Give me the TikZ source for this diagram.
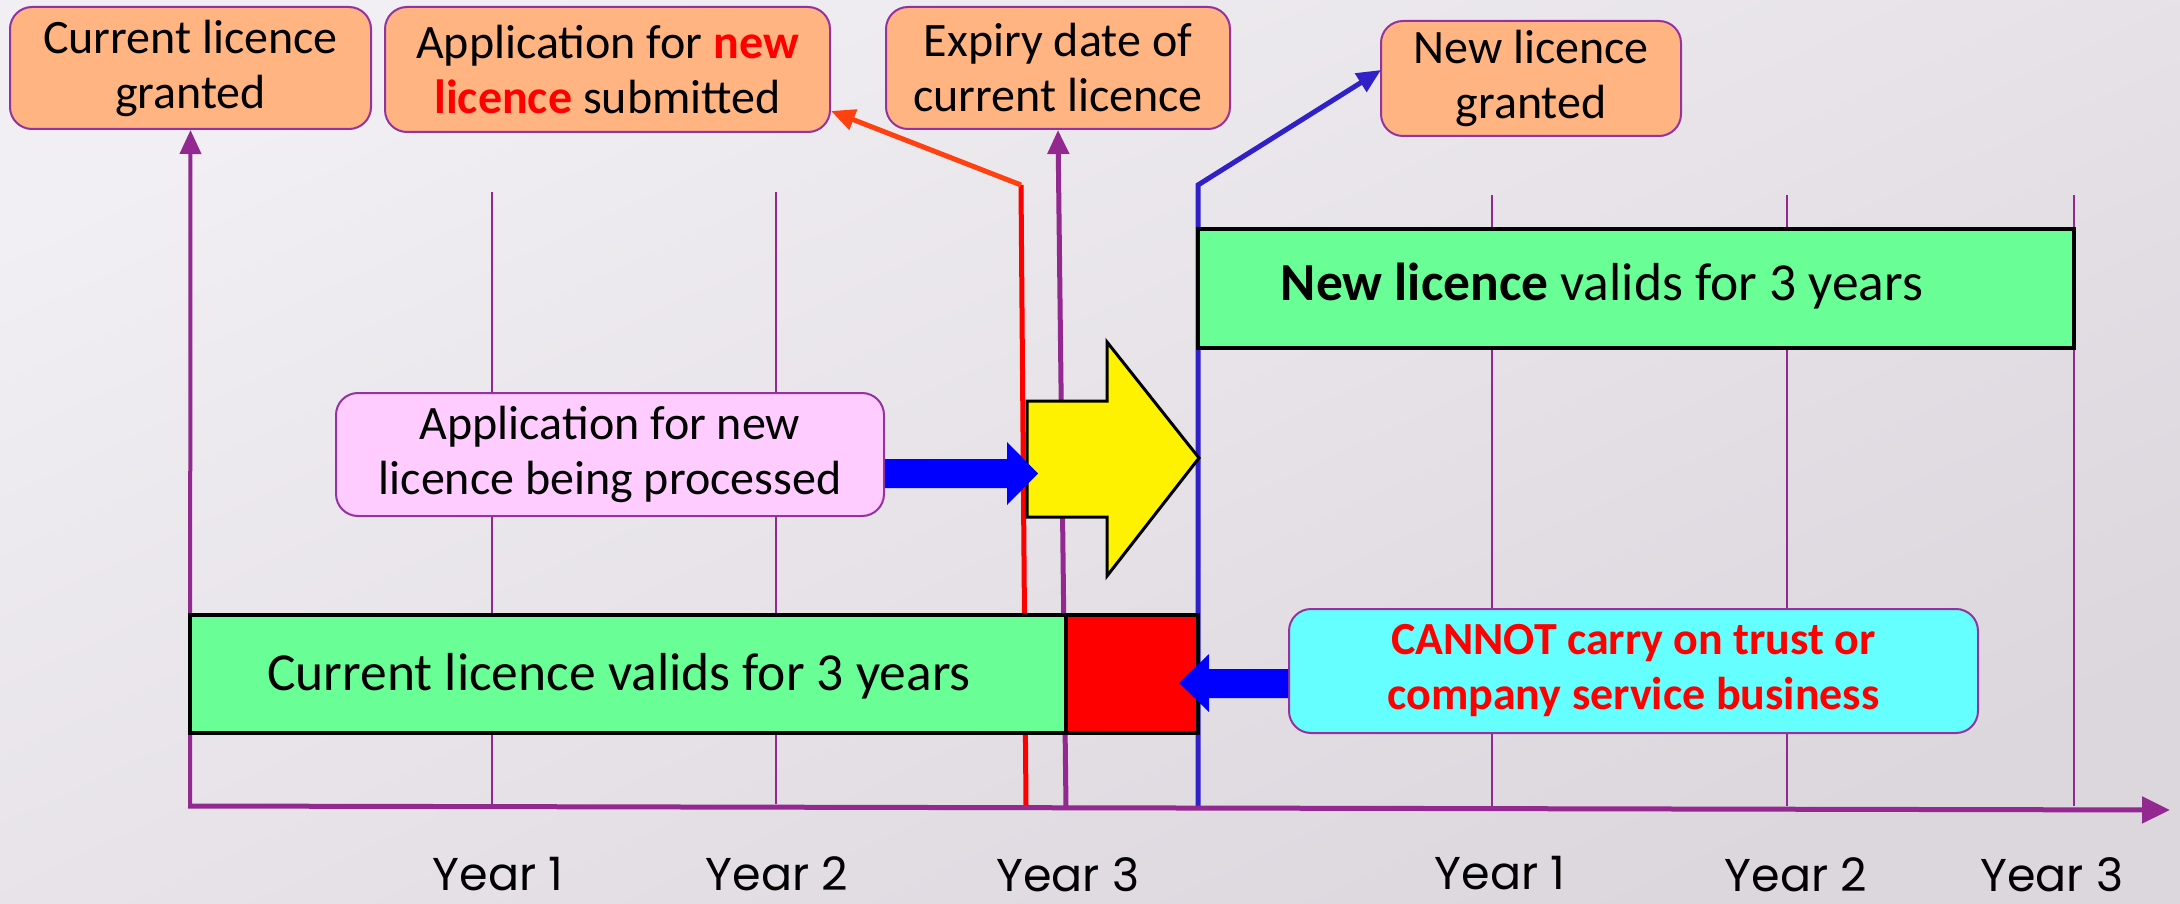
\documentclass[tikz,border=0pt]{standalone}
\usepackage{fontspec}
\setmainfont{Carlito}
\newfontfamily\yearfont{Poppins}
\usetikzlibrary{arrows.meta}
\definecolor{bgT}{HTML}{F1EFF3}
\definecolor{bgB}{HTML}{DCD6DD}
\definecolor{boxorange}{HTML}{FFB482}
\definecolor{boxline}{HTML}{9433A0}
\definecolor{axpurple}{HTML}{922890}
\definecolor{lgreen}{HTML}{69FF96}
\definecolor{lpink}{HTML}{FFCCFF}
\definecolor{lcyan}{HTML}{66FFFF}
\definecolor{pblue}{HTML}{0000FF}
\definecolor{lineblue}{HTML}{3020C8}
\definecolor{redorange}{HTML}{FF4010}
\tikzset{
  txt/.style={font=\fontsize{48}{55}\selectfont},
  bartxt/.style={font=\fontsize{53.5}{60}\selectfont},
  tbox/.style={rectangle, rounded corners=22pt, draw=boxline, line width=2pt,
    align=center, inner sep=0pt, txt},
  bar/.style={rectangle, draw=black, line width=4pt, inner sep=0pt},
  grid/.style={draw=axpurple, line width=1.6pt},
  vline/.style={line width=5pt},
  tip/.style={-{Triangle[length=24pt,width=21pt]}},
  yearlbl/.style={font=\yearfont\fontsize{46}{52}\selectfont, anchor=base, inner sep=0pt},
  fatarrow/.style={fill=pblue, draw=none}
}
\begin{document}
\begin{tikzpicture}[x=1pt,y=-1pt]
\useasboundingbox (0,0) rectangle (2180,904);
\shade[top color=bgT, bottom color=bgB, shading angle=25] (0,0) rectangle (2180,904);

% grid lines
\draw[grid] (492,192) -- (492,804);
\draw[grid] (776,192) -- (776,804);
\draw[grid] (1492,195) -- (1492,806);
\draw[grid] (1787,195) -- (1787,806);
\draw[grid] (2074,195) -- (2074,806);

% boxes
\node[tbox, fill=boxorange, minimum width=361pt, minimum height=122pt] (b1) at (190.5,68) {Current licence\\granted};
\node[tbox, fill=boxorange, minimum width=445pt, minimum height=125pt] (b2) at (607.5,69.5) {Application for \textbf{\color{red}new}\\\textbf{\color{red}licence} submitted};
\node[tbox, fill=boxorange, minimum width=344pt, minimum height=122pt] (b3) at (1058,68) {Expiry date of\\current licence};
\node[tbox, fill=boxorange, minimum width=300pt, minimum height=115pt] (b4) at (1531,78.5) {New licence\\granted};

% coordinates
\coordinate (o) at (188,806);
\coordinate (axend) at (2170,810);
\coordinate (r0) at (1026,806);
\coordinate (r1) at (1021,185);
\coordinate (r2) at (831,111);
\coordinate (e0) at (1066,808);
\coordinate (n0) at (1198,806);
\coordinate (n1) at (1198,185);
\coordinate (n2) at (1381,70);
\coordinate (c0) at (190,806);

% vertical markers
\draw[vline, red] (r0) -- (r1);
\draw[vline, redorange, tip, line join=miter] (r1) -- (r2);
\draw[vline, axpurple, line width=4pt, tip] (c0) -- (b1.south);
\draw[vline, axpurple, tip] (e0) -- (b3.south);
\draw[vline, lineblue, tip, line join=miter] (n0) -- (n1) -- (n2);

% axis
\draw[axpurple, line width=5pt, -{Triangle[length=28pt,width=26pt]}] (o) -- (axend);

% bars
\node[bar, fill=lgreen, minimum width=876pt, minimum height=119pt] (newbar) at (1636,288.5) {};
\node[bartxt, anchor=center] (newtxt) at (1602,286) {\textbf{New licence} valids for 3 years};
\node[bar, fill=lgreen, minimum width=876pt, minimum height=118pt] (curbar) at (628,674) {};
\node[bartxt] (curtxt) at (619,676) {Current licence valids for 3 years};
\node[bar, fill=red, minimum width=132pt, minimum height=118pt] (redbar) at (1132,674) {};

% yellow arrow
\filldraw[fill=yellow, draw=black, line width=3pt, line join=miter]
  (1027,401) -- (1107,401) -- (1107,342) -- (1199,458) -- (1107,576) -- (1107,517) -- (1027,517) -- cycle;

% pink and cyan boxes
\node[tbox, fill=lpink, minimum width=548pt, minimum height=123pt] (pink) at (610,454.5) {Application for new\\licence being processed};
\node[tbox, fill=lcyan, minimum width=689pt, minimum height=124pt, font=\fontsize{46}{55}\selectfont\bfseries\color{red}] (cyan) at (1633.5,671) {CANNOT carry on trust or\\company service business};

% fat blue arrows
\fill[fatarrow] (pink.east |- 0,459) -- (1007,459) -- (1007,442) -- (1038,473.5) -- (1007,505) -- (1007,488) -- (pink.east |- 0,488) -- cycle;
\fill[fatarrow] (cyan.west |- 0,669) -- (1209,669) -- (1209,654) -- (1179,683) -- (1209,712) -- (1209,698) -- (cyan.west |- 0,698) -- cycle;

% year labels
\node[yearlbl] (y1) at (498,890) {Year 1};
\node[yearlbl] (y2) at (777,890) {Year 2};
\node[yearlbl] (y3) at (1068,891) {Year 3};
\node[yearlbl] (y4) at (1500,889) {Year 1};
\node[yearlbl] (y5) at (1796,891) {Year 2};
\node[yearlbl] (y6) at (2052,891) {Year 3};
\end{tikzpicture}
\end{document}
